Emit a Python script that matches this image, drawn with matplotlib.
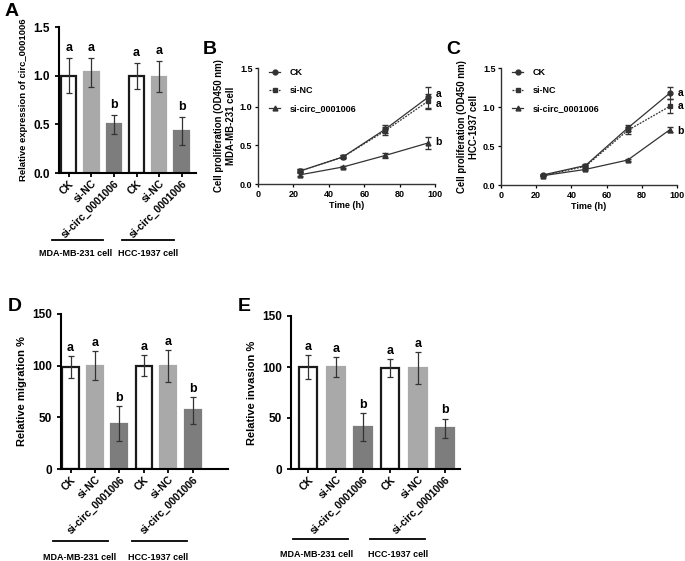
import matplotlib
matplotlib.use("Agg")
import matplotlib.pyplot as plt
import matplotlib.transforms as mtransforms
import numpy as np

plt.rcParams['font.family'] = ['Liberation Sans', 'DejaVu Sans']
plt.rcParams['font.weight'] = 'bold'
plt.rcParams['axes.labelweight'] = 'bold'

groups = ["CK", "si-NC", "si-circ_0001006"]
cells = ["MDA-MB-231 cell", "HCC-1937 cell"]
bar_labels = groups + groups
sig_letters = ["a", "a", "b", "a", "a", "b"]

# A: relative expression
expr_mean = [1.00, 1.035, 0.50, 1.00, 0.99, 0.43]
expr_err = [0.18, 0.147, 0.10, 0.135, 0.16, 0.143]

# B / C: proliferation
time_h = [24, 48, 72, 96]
mda_ck = [0.17, 0.35, 0.71, 1.12]
mda_ck_err = [0.02, 0.02, 0.05, 0.14]
mda_nc = [0.17, 0.35, 0.69, 1.07]
mda_nc_err = [0.02, 0.02, 0.05, 0.10]
mda_si = [0.12, 0.22, 0.37, 0.53]
mda_si_err = [0.02, 0.01, 0.03, 0.08]
mda_letters = [(1.16, "a"), (1.04, "a"), (0.54, "b")]

hcc_ck = [0.13, 0.25, 0.73, 1.18]
hcc_ck_err = [0.01, 0.02, 0.04, 0.08]
hcc_nc = [0.12, 0.24, 0.70, 1.01]
hcc_nc_err = [0.01, 0.02, 0.04, 0.09]
hcc_si = [0.12, 0.20, 0.32, 0.71]
hcc_si_err = [0.01, 0.01, 0.01, 0.03]
hcc_letters = [(1.18, "a"), (1.01, "a"), (0.69, "b")]

# D / E
mig_mean = [99, 100, 44, 100, 100, 57]
mig_err = [10.5, 14, 17, 10, 15.5, 13]
inv_mean = [100, 100, 41, 99, 99, 40]
inv_err = [11.5, 10, 14, 8.5, 15.5, 9.5]

bar_colors = ["white", "#a9a9a9", "#7d7d7d"] * 2
bar_edges = ["#1a1a1a", "#a9a9a9", "#7d7d7d"] * 2

W, H = 685, 561
fig = plt.figure(figsize=(W / 100, H / 100), dpi=100)


def px_axes(x0, x1, y0, y1):
    return fig.add_axes([x0 / W, 1 - y1 / H, (x1 - x0) / W, (y1 - y0) / H])


def bar_panel(ax, mean, err, ylim, yticks, ylabel, xlim, letter_off, lines, texts, line_y, text_y, fs_label):
    x = np.arange(len(mean))
    ax.bar(x, mean, width=0.66, color=bar_colors, edgecolor=bar_edges, linewidth=1.6, zorder=2)
    ax.errorbar(x, mean, yerr=err, fmt='none', ecolor='#333333', elinewidth=0.9, capsize=2.5, capthick=0.9, zorder=3)
    for xi, m, e, s in zip(x, mean, err, sig_letters):
        ax.text(xi, m + e + letter_off, s, ha='center', va='bottom', fontsize=9, fontweight='bold')
    ax.set_xlim(*xlim)
    ax.set_ylim(*ylim)
    ax.set_yticks(yticks)
    ax.set_xticks(x)
    ax.set_xticklabels(bar_labels, rotation=45, ha='right', rotation_mode='anchor', fontsize=7.5, fontweight='bold')
    ax.set_ylabel(ylabel, fontsize=fs_label, fontweight='bold')
    for s in ['top', 'right']:
        ax.spines[s].set_visible(False)
    for s in ['left', 'bottom']:
        ax.spines[s].set_linewidth(1.5)
    ax.tick_params(axis='y', labelsize=8.5, width=1.3, length=3)
    ax.tick_params(axis='x', width=1.3, length=3, pad=1)
    for lab in ax.get_yticklabels():
        lab.set_fontweight('bold')
    trans = mtransforms.blended_transform_factory(ax.transData, ax.transAxes)
    for (xa, xb), (xt, t) in zip(lines, zip(texts, cells)):
        ax.plot([xa, xb], [line_y, line_y], color='black', lw=1.3, transform=trans, clip_on=False)
        ax.text(xt, text_y, t, ha='center', va='center', fontsize=6.5, fontweight='bold', transform=trans)


def line_panel(ax, ck, ck_e, nc, nc_e, si, si_e, ylabel, letters):
    styles = [(ck, ck_e, 'o', '-', "CK"),
              (nc, nc_e, 's', (0, (1.5, 1)), "si-NC"),
              (si, si_e, '^', '-', "si-circ_0001006")]
    for vals, errs, mk, ls, name in styles:
        ax.errorbar(time_h, vals, yerr=errs, fmt='none', ecolor='#333333', capsize=2, elinewidth=0.8)
        ax.plot(time_h, vals, color='#333333', marker=mk, ms=3.5, lw=0.9, ls=ls, label=name)
    ax.set_xlim(0, 100)
    ax.set_ylim(0, 1.5)
    ax.set_xticks([0, 20, 40, 60, 80, 100])
    ax.set_yticks([0.0, 0.5, 1.0, 1.5])
    ax.set_yticklabels(["0.0", "0.5", "1.0", "1.5"])
    for s in ['top', 'right']:
        ax.spines[s].set_visible(False)
    for s in ['left', 'bottom']:
        ax.spines[s].set_linewidth(1.0)
        ax.spines[s].set_color('#333333')
    ax.tick_params(labelsize=6.5, width=0.9, length=2.5, pad=1.5)
    for lab in ax.get_xticklabels() + ax.get_yticklabels():
        lab.set_fontweight('bold')
    ax.set_xlabel("Time (h)", fontsize=6.5, fontweight='bold', labelpad=2)
    ax.set_ylabel(ylabel, fontsize=6.9, fontweight='bold', labelpad=3)
    for yv, s in letters:
        ax.text(100.3, yv, s, ha='left', va='center', fontsize=7.5, fontweight='bold', clip_on=False)
    leg = ax.legend(loc='upper left', bbox_to_anchor=(0.04, 1.03), frameon=False, fontsize=6.5,
                    handlelength=1.3, handletextpad=1.0, labelspacing=1.0, borderaxespad=0)
    for t in leg.get_texts():
        t.set_fontweight('bold')


# Panel A
axA = px_axes(59, 196, 27, 173)
bar_panel(axA, expr_mean, expr_err, (0, 1.5), [0.0, 0.5, 1.0, 1.5], "Relative expression of circ_0001006",
          (-0.44, 5.64), 0.04, [(-0.76, 1.51), (2.36, 4.67)], [0.31, 3.5], -0.46, -0.55, 6.8)
axA.set_yticklabels(["0.0", "0.5", "1.0", "1.5"])

# Panel B
axB = px_axes(258, 435, 68, 184)
line_panel(axB, mda_ck, mda_ck_err, mda_nc, mda_nc_err, mda_si, mda_si_err,
           "Cell proliferation (OD450 nm)\nMDA-MB-231 cell", mda_letters)

# Panel C
axC = px_axes(501, 677, 68, 185)
line_panel(axC, hcc_ck, hcc_ck_err, hcc_nc, hcc_nc_err, hcc_si, hcc_si_err,
           "Cell proliferation (OD450 nm)\nHCC-1937 cell", hcc_letters)

# Panel D
axD = px_axes(61, 228, 314, 469)
bar_panel(axD, mig_mean, mig_err, (0, 150), [0, 50, 100, 150], "Relative migration %",
          (-0.39, 6.45), 2, [(-0.72, 1.55), (2.5, 4.77)], [0.39, 3.6], -0.465, -0.57, 8)

# Panel E
axE = px_axes(291, 460, 316, 469)
bar_panel(axE, inv_mean, inv_err, (0, 150), [0, 50, 100, 150], "Relative invasion %",
          (-0.64, 5.55), 2, [(-0.57, 1.45), (2.25, 4.27)], [0.28, 3.28], -0.457, -0.556, 8)

for lbl, x, y in [("A", 5, 3), ("B", 203, 41), ("C", 446, 41), ("D", 8, 298), ("E", 238, 298)]:
    fig.text(x / W, 1 - y / H, lbl, fontsize=14, fontweight='bold', ha='left', va='top')

fig.savefig("out.png", dpi=100)
